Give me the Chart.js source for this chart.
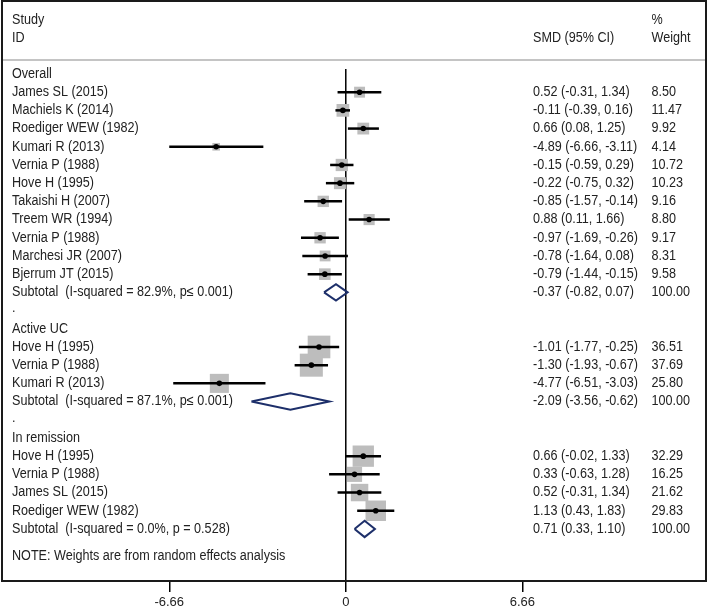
<!DOCTYPE html>
<html><head><meta charset="utf-8">
<script src="https://cdn.jsdelivr.net/npm/chart.js@4/dist/chart.umd.min.js"></script>
<style>html,body{margin:0;padding:0;background:#fff;}canvas{display:block;}</style>
</head><body>
<canvas id="c" width="708" height="609"></canvas>
<script>
const groupNames = ['Overall', 'Active UC', 'In remission'];
const studyGroup = [0,0,0,0,0,0,0,0,0,0,0, 1,1,1, 2,2,2,2];
const studyLabels = [
  'James SL (2015)', 'Machiels K (2014)', 'Roediger WEW (1982)', 'Kumari R (2013)',
  'Vernia P (1988)', 'Hove H (1995)', 'Takaishi H (2007)', 'Treem WR (1994)',
  'Vernia P (1988)', 'Marchesi JR (2007)', 'Bjerrum JT (2015)',
  'Hove H (1995)', 'Vernia P (1988)', 'Kumari R (2013)',
  'Hove H (1995)', 'Vernia P (1988)', 'James SL (2015)', 'Roediger WEW (1982)'
];
const studySMD   = [0.52, -0.11, 0.66, -4.89, -0.15, -0.22, -0.85, 0.88, -0.97, -0.78, -0.79, -1.01, -1.30, -4.77, 0.66, 0.33, 0.52, 1.13];
const studyLower = [-0.31, -0.39, 0.08, -6.66, -0.59, -0.75, -1.57, 0.11, -1.69, -1.64, -1.44, -1.77, -1.93, -6.51, -0.02, -0.63, -0.31, 0.43];
const studyUpper = [1.34, 0.16, 1.25, -3.11, 0.29, 0.32, -0.14, 1.66, -0.26, 0.08, -0.15, -0.25, -0.67, -3.03, 1.33, 1.28, 1.34, 1.83];
const studyWeight = [8.50, 11.47, 9.92, 4.14, 10.72, 10.23, 9.16, 8.80, 9.17, 8.31, 9.58, 36.51, 37.69, 25.80, 32.29, 16.25, 21.62, 29.83];
const subtotalLabels = [
  'Subtotal  (I-squared = 82.9%, p\u2264 0.001)',
  'Subtotal  (I-squared = 87.1%, p\u2264 0.001)',
  'Subtotal  (I-squared = 0.0%, p = 0.528)'
];
const subtotalSMD   = [-0.37, -2.09, 0.71];
const subtotalLower = [-0.82, -3.56, 0.33];
const subtotalUpper = [0.07, -0.62, 1.10];
const subtotalWeight = [100.00, 100.00, 100.00];
const xTicks = [-6.66, 0, 6.66];
const headerLeft = ['Study', 'ID'];
const headerEffect = 'SMD (95% CI)';
const headerWeight = ['%', 'Weight'];
const noteText = 'NOTE: Weights are from random effects analysis';

// ---- row layout built from the arrays ----
const rows = [];
let rr = 0;
groupNames.forEach((g, gi) => {
  rows.push({type: 'group', label: g, r: rr++});
  studyLabels.forEach((lab, i) => {
    if (studyGroup[i] === gi) rows.push({type: 'study', label: lab, est: studySMD[i], lo: studyLower[i], hi: studyUpper[i], w: studyWeight[i], r: rr++});
  });
  rows.push({type: 'sub', label: subtotalLabels[gi], est: subtotalSMD[gi], lo: subtotalLower[gi], hi: subtotalUpper[gi], w: subtotalWeight[gi], r: rr++});
  if (gi < groupNames.length - 1) rows.push({type: 'dot', label: '.', r: rr++});
});
const noteRow = rr + 0.5;
const studyRows = rows.filter(d => d.type === 'study');
const subRows = rows.filter(d => d.type === 'sub');

const Y_MIN = -4.01, Y_MAX = 27.86;
const TEXT_FONT = '14px "Liberation Sans", Arial, sans-serif';
const TEXT_COLOR = '#222';

const datasets = [];
// zero reference line
datasets.push({type: 'line', data: [{x: 0, y: -0.27}, {x: 0, y: Y_MAX}], borderColor: '#000', borderWidth: 1.5, pointRadius: 0, order: 10});
// weight squares
datasets.push({type: 'scatter', data: studyRows.map(d => ({x: d.est, y: d.r, w: d.w})),
  pointStyle: 'rect', backgroundColor: '#bdbdbd', borderWidth: 0,
  pointRadius: ctx => (3.75 * Math.sqrt(ctx.raw ? ctx.raw.w : 1)) / Math.SQRT2, order: 9});
// CI lines
studyRows.forEach(d => {
  datasets.push({type: 'line', data: [{x: d.lo, y: d.r}, {x: d.hi, y: d.r}], borderColor: '#000', borderWidth: 2.5, pointRadius: 0, order: 8});
});
// point estimates
datasets.push({type: 'scatter', data: studyRows.map(d => ({x: d.est, y: d.r})), pointStyle: 'circle', pointRadius: 2.8, backgroundColor: '#000', borderWidth: 0, order: 7});
// subtotal diamonds
const H = 0.45;
subRows.forEach(d => {
  datasets.push({type: 'line', data: [
    {x: d.lo, y: d.r}, {x: d.est, y: d.r - H}, {x: d.hi, y: d.r}, {x: d.est, y: d.r + H}, {x: d.lo, y: d.r}
  ], borderColor: '#1d2f6a', borderWidth: 2, pointRadius: 0, tension: 0, fill: false, borderJoinStyle: 'miter', order: 6});
});

function drawText(ctx, s, x, y) {
  ctx.save();
  ctx.translate(x, y);
  ctx.scale(0.9, 1);
  ctx.fillText(s, 0, 0);
  ctx.restore();
}

const forestText = {
  id: 'forestText',
  afterDraw(chart) {
    const ctx = chart.ctx, a = chart.chartArea, ys = chart.scales.y;
    ctx.save();
    ctx.strokeStyle = '#b0b0b0';
    ctx.lineWidth = 1.5;
    ctx.beginPath(); ctx.moveTo(a.left, 60); ctx.lineTo(a.right, 60); ctx.stroke();
    ctx.strokeStyle = '#1a1a1a';
    ctx.lineWidth = 2;
    ctx.strokeRect(a.left, a.top, a.right - a.left, a.bottom - a.top);
    ctx.fillStyle = TEXT_COLOR;
    ctx.font = TEXT_FONT;
    ctx.textBaseline = 'middle';
    ctx.textAlign = 'left';
    const xL = 12, xE = 533, xW = 651.5;
    drawText(ctx, headerLeft[0], xL, 20);
    drawText(ctx, headerLeft[1], xL, 38.5);
    drawText(ctx, headerEffect, xE, 38.5);
    drawText(ctx, headerWeight[0], xW, 20);
    drawText(ctx, headerWeight[1], xW, 38.5);
    rows.forEach(d => {
      const y = ys.getPixelForValue(d.r);
      if (d.type === 'dot') { drawText(ctx, d.label, xL, y - 2); return; }
      drawText(ctx, d.label, xL, y);
      if (d.type === 'study' || d.type === 'sub') {
        drawText(ctx, d.est.toFixed(2) + ' (' + d.lo.toFixed(2) + ', ' + d.hi.toFixed(2) + ')', xE, y);
        drawText(ctx, d.w.toFixed(2), xW, y);
      }
    });
    drawText(ctx, noteText, xL, ys.getPixelForValue(noteRow));
    ctx.restore();
  }
};

new Chart(document.getElementById('c'), {
  type: 'scatter',
  data: {datasets},
  options: {
    responsive: false,
    animation: false,
    devicePixelRatio: 1,
    layout: {autoPadding: false, padding: {left: 2, right: 2, top: 1, bottom: 0}},
    plugins: {legend: {display: false}, tooltip: {enabled: false}},
    scales: {
      x: {
        type: 'linear', position: 'bottom', min: -12.97, max: 13.59,
        afterBuildTicks: s => { s.ticks = xTicks.map(v => ({value: v})); },
        afterFit: s => { s.paddingLeft = 0; s.paddingRight = 0; s.paddingTop = 0; s.paddingBottom = 0; s.height = 28; },
        ticks: {
          autoSkip: false, maxRotation: 0, padding: 3, color: TEXT_COLOR,
          font: {size: 13, family: '"Liberation Sans", Arial, sans-serif'},
          callback: v => (v === 0 ? '0' : Number(v).toFixed(2))
        },
        grid: {drawOnChartArea: false, drawTicks: true, tickLength: 11, color: '#000', lineWidth: 1.5},
        border: {display: true, color: '#1a1a1a', width: 2}
      },
      y: {type: 'linear', display: false, reverse: true, min: Y_MIN, max: Y_MAX}
    }
  },
  plugins: [forestText]
});
</script>
</body></html>
